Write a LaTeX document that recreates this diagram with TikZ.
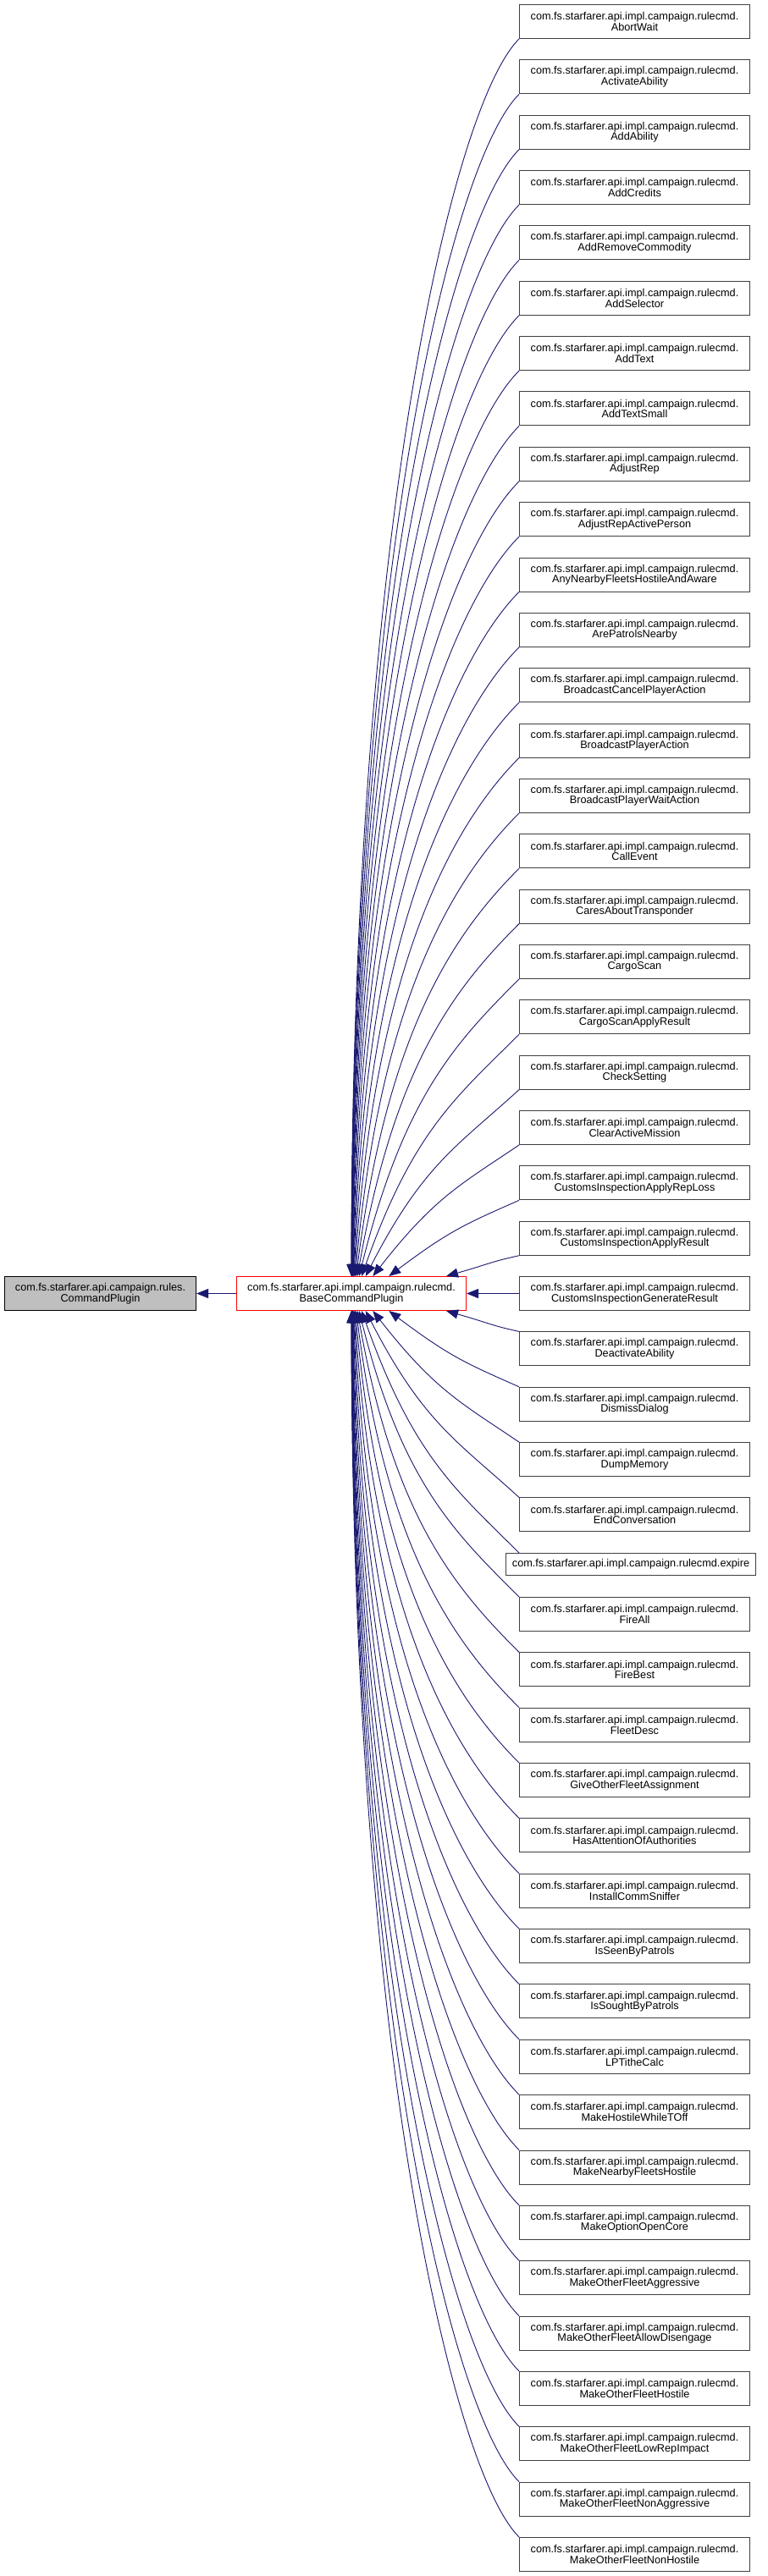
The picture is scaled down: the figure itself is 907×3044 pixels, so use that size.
\documentclass[tikz,border=0pt]{standalone}
\usepackage{fontspec}
\setmainfont{Liberation Sans}
\usetikzlibrary{arrows.meta}
\definecolor{edgecol}{HTML}{191970}
\definecolor{boxborder}{HTML}{404040}
\definecolor{cpfill}{HTML}{BFBFBF}
\tikzset{
  cls/.style={draw=boxborder, line width=1pt, fill=white, minimum width=272pt,
    minimum height=40pt, inner sep=0pt, align=center,
    font=\fontsize{12.7pt}{12.5pt}\selectfont, anchor=north west},
  edge/.style={draw=edgecol, line width=0.9pt, -{Triangle[length=14pt,width=11pt]}},
}
% compute control offsets for an edge at distance #1 with vertical gap #2
\newcommand{\edgecalc}[2]{%
  \pgfmathsetmacro\xe{413+114/pow(#1,1.3)}%
  \pgfmathsetmacro\dx{613-\xe}%
  \pgfmathsetmacro\dy{#2}%
  \pgfmathsetmacro\ax{0.4*\dx}%
  \pgfmathsetmacro\ay{min(0.4*\dx,0.3*\dy)}%
  \pgfmathsetmacro\ang{90-74*exp(-(#1-1)/3)}%
  \pgfmathsetmacro\by{0.6*\dy}%
  \pgfmathsetmacro\bx{\by*cos(\ang)/sin(\ang)}%
  \pgfmathsetmacro\off{\xe-279}%
}
\begin{document}
\begin{tikzpicture}[x=1pt,y=1pt]
\useasboundingbox (0,0) rectangle (907,-3044);
\fill[white] (0,0) rectangle (907,-3044);
\node[cls, fill=cpfill, draw=black, minimum width=226pt] (cp) at (5,-1508)
  {com.fs.starfarer.api.campaign.rules.\\CommandPlugin};
\node[cls, draw=red, minimum width=271pt] (base) at (279,-1508)
  {com.fs.starfarer.api.impl.campaign.rulecmd.\\BaseCommandPlugin};
\draw[edge] (base) -- (cp);
% upper children 0..27
\foreach \nm [count=\i from 0] in {AbortWait, ActivateAbility, AddAbility, AddCredits,
  AddRemoveCommodity, AddSelector, AddText, AddTextSmall, AdjustRep, AdjustRepActivePerson,
  AnyNearbyFleetsHostileAndAware, ArePatrolsNearby, BroadcastCancelPlayerAction,
  BroadcastPlayerAction, BroadcastPlayerWaitAction, CallEvent, CaresAboutTransponder,
  CargoScan, CargoScanApplyResult, CheckSetting, ClearActiveMission,
  CustomsInspectionApplyRepLoss, CustomsInspectionApplyResult,
  CustomsInspectionGenerateResult, DeactivateAbility, DismissDialog, DumpMemory,
  EndConversation} {
  \pgfmathsetmacro\tp{5+\i*65.35}
  \node[cls] (c\i) at (613,-\tp) {com.fs.starfarer.api.impl.campaign.rulecmd.\\\nm};
  \ifnum\i<23
    \edgecalc{23-\i}{1508-(\tp+40)}
    \draw[edge] (c\i.south west) .. controls +(-\ax,-\ay) and +(\bx,\by) .. ([xshift=\off pt]base.north west);
  \else
    \ifnum\i=23
      \draw[edge] (c\i) -- (base);
    \else
      \edgecalc{\i-23}{\tp-1548}
      \draw[edge] (c\i.north west) .. controls +(-\ax,\ay) and +(\bx,-\by) .. ([xshift=\off pt]base.south west);
    \fi
  \fi
}
% expire (single line)
\node[cls, minimum width=295pt, minimum height=26pt] (c28) at (597,-1835)
  {com.fs.starfarer.api.impl.campaign.rulecmd.expire};
\edgecalc{5}{1835-1548}
\draw[edge] ([xshift=16pt]c28.north west) .. controls +(-\ax,\ay) and +(\bx,-\by) .. ([xshift=\off pt]base.south west);
% lower children 29..46
\foreach \nm [count=\i from 29] in {FireAll, FireBest, FleetDesc, GiveOtherFleetAssignment,
  HasAttentionOfAuthorities, InstallCommSniffer, IsSeenByPatrols, IsSoughtByPatrols,
  LPTitheCalc, MakeHostileWhileTOff, MakeNearbyFleetsHostile, MakeOptionOpenCore,
  MakeOtherFleetAggressive, MakeOtherFleetAllowDisengage, MakeOtherFleetHostile,
  MakeOtherFleetLowRepImpact, MakeOtherFleetNonAggressive, MakeOtherFleetNonHostile} {
  \pgfmathsetmacro\tp{1887+(\i-29)*65.35}
  \node[cls] (c\i) at (613,-\tp) {com.fs.starfarer.api.impl.campaign.rulecmd.\\\nm};
  \edgecalc{\i-23}{\tp-1548}
  \draw[edge] (c\i.north west) .. controls +(-\ax,\ay) and +(\bx,-\by) .. ([xshift=\off pt]base.south west);
}
\end{tikzpicture}
\end{document}
